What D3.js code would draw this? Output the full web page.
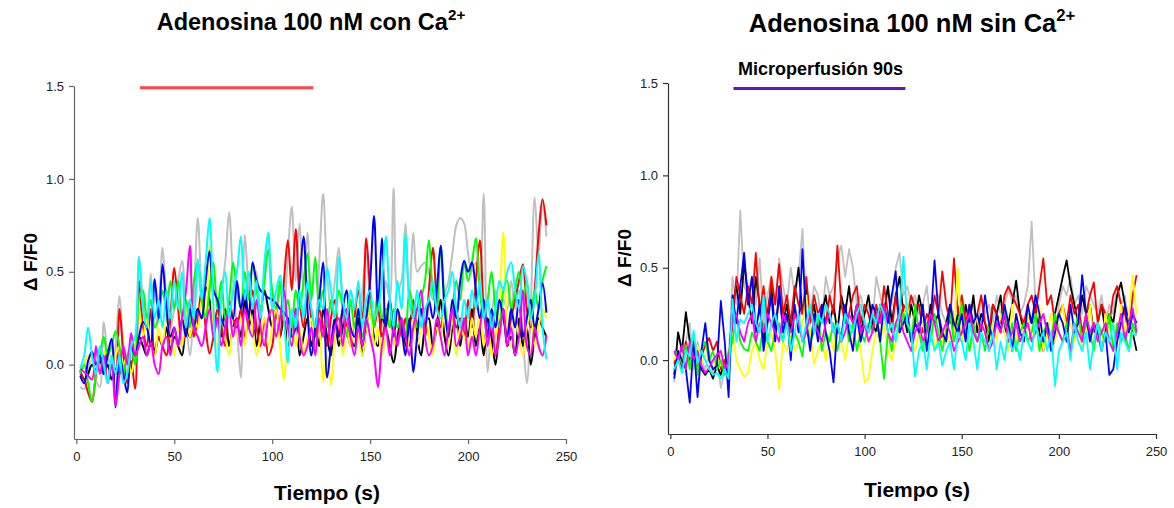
<!DOCTYPE html>
<html><head><meta charset="utf-8">
<script src="https://cdn.jsdelivr.net/npm/d3@7"></script>
<style>
html,body{margin:0;padding:0;background:#fff;}
svg{display:block;font-family:"Liberation Sans",Arial,sans-serif;}
</style></head>
<body>
<svg id="chart" width="1174" height="508"></svg>
<script>
// sampling grid (seconds)
const time = d3.range(2, 242, 2);
const xTicks = [0, 50, 100, 150, 200, 250];
const yTicks = [0, 0.5, 1.0, 1.5];
const seriesNames = ["gris","negro","rojo","amarillo","verde","azul","magenta","cian"];
const seriesColors = ["#c0c0c0","#000000","#ff0000","#ffff00","#00ff00","#0000ff","#ff00ff","#00ffff"];
const stimulus = [32.5, 121];

// ---- Panel izquierdo: con Ca2+ ----
const grisL = [-.12,-.13,-.05,.05,-.08,-.12,.23,.05,-.02,.10, .37,.10,-.05,.12,.02,.58,.35,.25,.49,.20, .30,.63,.35,.20,.30,.45,.56,.25,.05,.35, .79,.40,.25,.45,.30,.20,.40,.55,.82,.45, .20,-.07,.70,.40,.25,.50,.30,.45,.71,.35, .25,.40,.30,.60,.85,.45,.76,.40,.71,.30, .20,.55,.92,.50,.30,.45,.63,.35,.25,.40, .30,.25,.40,.60,.35,.25,.40,.20,.45,.35, .95,.40,.45,.76,.35,.71,.50,.53,.55,.50, .35,.40,.30,.38,.45,.60,.75,.79,.76,.60, .50,.55,.45,.92,-.04,.25,.40,.30,.35,.30, .45,.30,.40,.15,-.10,.30,.90,.60,.88,.69];
const negroL = [-.03,-.08,-.05,.00,-.03,.02,-.05,.00,-.08,-.02, -.05,.02,.05,-.02,.10,.15,.10,.05,.12,.08, .15,.10,.20,.08,.15,.10,.05,.20,.15,.25, .30,.25,.42,.35,.20,.25,.15,.30,.10,.20, .25,.15,.35,.20,.30,.10,.25,.40,.30,.20, .30,.15,.25,.10,.20,.30,.05,.15,.25,.10, .20,.10,.30,.15,.05,.25,.10,.20,.30,.15, .10,.25,.05,.20,.30,.15,.10,.25,.20,.10, .01,.15,.25,.10,.20,.30,.15,.05,.20,.25, .10,.20,.35,.15,.05,.20,.30,.10,.25,.15, .30,.10,.20,.05,.25,.15,.00,.20,.30,.10, .15,.05,.25,.10,.20,.00,.15,.25,.20,.15];
const rojoL = [-.05,-.08,-.15,-.20,-.05,.05,-.02,.08,.00,-.05, .30,.05,-.10,.02,-.13,.45,.20,.10,.30,.05, .15,.10,.05,.25,.52,.30,.10,.20,.35,.15, .25,.40,.20,.06,.15,.30,.20,.10,.35,.25, .20,.30,.15,.25,.40,.20,.10,.25,.05,.10, .30,.15,.45,.67,.40,.73,.35,.20,.40,.25, .15,.30,.20,.10,.25,.35,.15,.30,.20,.10, .25,.40,.25,.68,.40,.20,.30,.15,.25,.35, .20,.30,.15,.25,.10,.35,.20,.30,.15,.40, .63,.35,.20,.30,.15,.30,.20,.25,.15,.35, .20,.45,.67,.30,.15,.25,.05,.20,.30,.15, .25,.35,.45,.54,.30,.20,.40,.70,.89,.75];
const amarilloL = [-.03,.00,.05,.02,.08,-.02,.05,.10,.00,.05, .10,.00,.05,-.05,.10,.30,.15,.25,.10,.05, .20,.10,.25,.15,.05,.20,.10,.30,.15,.25, .20,.35,.25,.65,.20,.10,.25,.15,.05,.20, .15,.25,.10,.30,.20,.05,.15,.25,.10,.20, .30,.10,-.08,.15,.25,.10,.20,.05,.15,.25, .10,.20,-.09,.05,-.11,.15,.25,.05,.20,.10, .25,.15,.05,.20,.30,.10,.20,.05,.15,.25, .10,.30,.20,.05,.15,.25,.10,.20,.30,.15, .05,.20,.15,.30,.10,.25,.05,.20,.15,.10, .25,.15,.30,.10,.20,.05,.15,.35,.71,.20, .10,.25,.15,.05,.20,.30,.10,.20,.30,.25];
const verdeL = [-.05,.00,-.10,-.20,-.05,.05,.15,.05,.10,.18, .10,-.05,.05,.10,.00,.35,.40,.25,.35,.20, .25,.40,.30,.45,.30,.45,.25,.35,.20,.45, .55,.35,.25,.40,.55,.30,.45,.25,.35,.55, .40,.30,.50,.35,.55,.40,.30,.45,.62,.40, .30,.45,.25,.35,.20,.40,.30,.45,.60,.35, .58,.30,.40,.20,.35,.25,.40,.30,.15,.35, .20,.30,.15,.25,.35,.20,.40,.25,.30,.20, .30,.20,.25,.15,.40,.30,.20,.35,.45,.67, .40,.30,.64,.35,.20,.30,.45,.35,.55,.45, .55,.68,.40,.25,.35,.50,.30,.20,.40,.45, .30,.40,.50,.35,.45,.25,.40,.30,.45,.53];
const azulL = [-.06,-.10,.02,.07,.00,.05,-.05,.05,.14,-.23, .05,-.05,-.15,.10,.05,.15,.23,.20,.10,.46, .25,.54,.30,.15,.20,.10,.25,.15,.30,.20, .30,.25,.45,.61,.40,.35,.25,.20,.30,.25, .45,.30,.40,.25,.55,.45,.40,.38,.36,.35, .33,.30,.28,.25,.15,.20,.45,.69,.30,.05, .20,.35,.55,-.07,.10,.25,.15,.30,.40,.20, .15,.30,.10,.25,.45,.80,.30,.68,.20,.35, .15,.30,.20,.05,.25,-.04,.15,.30,.20,.35, .25,.40,.64,.30,.15,.35,.25,.45,.56,.50, .55,.40,.25,.35,.15,.30,.20,.35,.25,.15, .30,.20,.35,.15,.25,.35,.20,.30,.44,.28];
const magentaL = [-.02,-.04,-.06,-.08,.10,-.05,.05,-.10,.00,-.22, -.05,.10,.00,.17,.05,.10,.15,.05,.12,.00, -.05,.10,.15,.05,.20,.10,.25,.40,.64,.20, .15,.10,.20,.30,.15,.25,.10,.20,.30,.15, .25,.10,.30,.20,.15,.35,.20,.10,.25,.30, .15,.25,.40,.20,.10,.30,.15,.05,.10,.20, .05,.25,.15,.30,.10,.20,.25,.10,.30,.15, .05,.20,.10,.25,.15,.05,-.12,.10,.20,.05, .20,.10,.25,.15,.05,.20,.30,.40,.15,.05, .10,.25,.15,.05,.20,.30,.10,.15,.25,.05, .15,.05,.20,.30,.10,.25,.05,.15,.30,.10, .20,.05,.15,.40,.10,.05,.20,.10,.05,.16];
const cianL = [-.02,.05,.20,.05,-.05,.10,.00,-.10,.05,-.05, .05,-.10,-.05,.10,.15,.58,.30,.20,.45,.25, .35,.20,.40,.25,.45,.30,.50,.20,.35,.25, .57,.35,.55,.79,.30,-.04,.35,.50,.25,.40, .50,.69,.35,.50,.30,.45,.25,.55,.71,.30, .40,.48,.25,.01,.30,.20,.40,.25,.45,.30, .20,.35,.30,.52,.40,.25,.58,.35,.25,.40, .30,.45,.20,.35,.40,.25,.30,.45,.69,.35, .20,.45,.30,.70,.35,.25,.40,.20,.30,.35, .45,.30,.25,.35,.40,.50,.30,.20,.35,.25, .40,.30,.45,.25,.35,.20,.30,.45,.40,.50, .55,.40,.30,.53,.45,.25,.35,.60,.20,.03];

// ---- Panel derecho: sin Ca2+ ----
const grisR = [-.12,.15,.05,.10,.20,-.05,.10,.00,-.05,.05, -.08,.00,-.15,-.05,.00,.45,.30,.81,.40,.35, .45,.30,.55,.20,.35,.45,.30,.55,.40,.30, .50,.35,.45,.71,.30,.25,.40,.35,.20,.45, .35,.40,.55,.62,.45,.60,.50,.30,.35,.25, .30,.20,.45,.35,.25,.40,.30,.50,.58,.35, .40,.30,.35,.25,.30,.40,.20,.30,.35,.25, .20,.30,.25,.15,.35,.20,.25,.30,.15,.35, .25,.30,.20,.35,.25,.30,.38,.32,.35,.25, .30,.40,.75,.30,.20,.25,.15,.05,.10,.30, .40,.35,.45,.30,.35,.25,.40,.35,.30,.25, .35,.20,.30,.25,.40,.30,.35,.20,.25,.18];
const negroR = [-.08,.15,.05,.26,.10,.00,.05,-.05,-.08,-.05, -.10,-.03,-.08,.00,-.05,.30,.40,.25,.53,.35, .20,.45,.30,.10,.25,.40,.15,.35,.20,.30, .15,.35,.50,.25,.40,.20,.30,.15,.25,.35, .20,.30,.15,.35,.25,.40,.20,.30,.15,.25, .35,.20,.15,.30,.25,.40,.20,.35,.45,.25, .15,.30,.20,.35,.25,.15,.30,.20,.25,.10, .20,.30,.15,.25,.10,.30,.20,.35,.15,.25, .20,.10,.30,.25,.35,.15,.20,.30,.43,.25, .15,.25,.20,.30,.15,.05,.20,.10,.25,.35, .45,.54,.40,.30,.20,.35,.25,.30,.15,.20, .30,.15,.25,.20,.35,.42,.30,.20,.15,.05];
const rojoR = [-.02,.05,-.05,.10,.00,.05,-.03,.02,.08,.12, .05,.10,-.05,.00,-.08,.20,.45,.35,.25,.40, .30,.58,.25,.40,.20,.45,.30,.52,.25,.35, .20,.40,.30,.25,.45,.20,.35,.25,.30,.20, .35,.25,.62,.30,.20,.25,.35,.40,.20,.30, .25,.15,.30,.20,.40,.25,.15,.35,.20,.30, .25,.35,.28,.30,.15,.25,.20,.35,.25,.48, .30,.20,.55,.25,.35,.20,.30,.15,.25,.35, .20,.15,.30,.25,.20,.35,.40,.35,.30,.25, .20,.30,.35,.25,.40,.55,.30,.35,.20,.25, .30,.20,.35,.25,.30,.15,.25,.35,.42,.20, .30,.25,.20,.35,.40,.30,.25,.15,.35,.46];
const amarilloR = [.00,.05,.02,-.03,.05,.00,.08,-.02,.03,.00, -.05,.02,-.03,.05,-.08,.15,.00,-.05,-.09,-.07, .05,.10,.00,-.05,.10,.15,.05,-.16,.10,.05, .15,.05,.10,.20,.35,.15,-.02,.05,.10,.00, .15,.05,.20,.10,.00,.15,.10,.25,.05,-.12, -.10,.05,.15,.10,.20,.05,.00,.10,.15,.25, .30,.10,.05,.15,.20,.10,.25,.05,.15,.10, .20,.05,.15,.50,.10,.20,.05,.15,.25,.10, .15,.05,.20,.10,.25,.15,.05,.30,.10,.20, .15,.25,.10,.20,.30,.05,.15,.25,.10,.20, .30,.15,.20,.10,.25,.05,.15,.30,.10,.20, .05,.25,.15,.20,.10,.30,.15,.25,.46,.25];
const verdeR = [.03,.05,-.02,.08,-.05,.13,-.08,.05,.10,.00, .05,-.05,.00,-.08,.05,.10,.25,.10,.06,.05, .15,.10,.05,.20,.10,.05,.15,.20,.10,.25, .05,.15,.10,.02,.20,.10,.15,.25,.05,.15, .10,.20,.05,.15,.25,.10,.20,.05,.15,.10, .20,.15,.25,.10,-.10,.15,.05,.20,.15,.25, .20,.10,.30,.15,.05,.20,.10,.25,.15,.05, .15,.25,.10,.20,.30,.15,.05,.20,.10,.15, .05,.20,.10,.25,.15,.30,.10,.20,.05,.15, .20,.10,.15,.25,.05,.15,.20,.10,.25,.15, .10,.20,.05,.15,.25,.10,.20,.15,.05,.20, .15,.10,.25,.05,.20,.10,.15,.05,.20,.14];
const azulR = [-.10,.05,.00,-.05,-.23,.10,-.20,.05,.20,.00, -.05,-.03,.32,.10,-.20,.35,.20,.40,.58,.30, .45,.15,.30,.05,.20,.35,.10,.40,.15,.25, .00,.30,.15,.60,.20,.05,.25,.10,.30,.15, .05,-.12,.20,.10,.30,.15,.05,.25,.10,.20, .15,.30,.25,.10,.30,.20,.35,.48,.15,.20, .25,.10,.20,.15,.30,.05,.20,.54,.25,.15, .10,.30,.20,.15,.25,.10,.30,.20,.25,.15, .35,.20,.10,.25,.15,.30,.20,.05,.25,.15, .10,.30,.20,.35,.25,.10,.20,.05,.15,.25, .20,.10,.30,.15,.20,.46,.25,.10,.20,.15, .05,.15,-.08,-.05,.10,.20,.30,.15,.25,.20];
const magentaR = [.05,.00,.08,-.05,.10,.00,.05,-.03,-.07,-.04, .00,.03,.05,-.05,.00,.20,.25,.15,.10,.20, .25,.10,.20,.15,.25,.20,.15,.10,.25,.20, .15,.25,.20,.10,.15,.25,.20,.15,.10,.20, .25,.15,.20,.10,.15,.25,.20,.30,.15,.20, .10,.15,.25,.20,.30,.15,.10,.20,.25,.15, .10,.05,.15,.20,.10,.15,.25,.20,.10,.15, .20,.15,.05,.10,.15,.20,.25,.15,.10,.20, .15,.05,.10,.20,.15,.25,.10,.15,.20,.10, .15,.20,.10,.15,.20,.25,.15,.10,.20,.15, .10,.15,.05,.20,.15,.10,.25,.15,.20,.10, .15,.20,.10,.05,.15,.25,.10,.20,.28,.15];
const cianR = [-.05,.00,-.07,.05,.02,.16,-.02,.05,.00,-.05, -.08,-.07,-.10,-.05,-.10,.33,.10,.22,.20,.25, .30,.20,.15,.35,.10,.20,.25,.15,.10,.20, .05,.15,.25,.10,.20,.30,.15,.25,.20,.30, .25,.15,.20,.10,.25,.20,.15,.25,.30,.20, .15,.25,.20,.30,.25,.15,.20,.10,.25,.56, .20,.15,-.09,.05,.10,-.05,.15,.05,.10,-.03, .05,.10,-.05,.15,.10,.00,.20,.10,-.05,.15, .10,.05,.15,-.05,.10,.00,.15,.05,.10,.00, .15,.10,.05,.20,.10,.15,.05,.15,-.14,.05, .10,.15,.00,.20,.10,.05,.15,-.05,.10,.20, .05,.15,.10,.20,-.05,.15,.10,.05,.15,.13];

const panels = [
  {title:"Adenosina 100 nM con Ca", series:[grisL,negroL,rojoL,amarilloL,verdeL,azulL,magentaL,cianL],
   x0:74, x1:566, yTop:86, yBot:439, titleX:311, titleY:30, titleSize:23.5, smooth:true, axisColor:"#666",
   barColor:"#ff4444", barY:1.49, barLabel:null, ylabX:37, ylabY:262, tiempoX:327, tiempoY:500},
  {title:"Adenosina 100 nM sin Ca", series:[grisR,negroR,rojoR,amarilloR,verdeR,azulR,magentaR,cianR],
   x0:668, x1:1156, yTop:83, yBot:434, titleX:912, titleY:32, titleSize:25.5, smooth:false, axisColor:"#333",
   barColor:"#6a10cc", barY:1.47, barLabel:"Microperfusión 90s", ylabX:631, ylabY:258, tiempoX:917, tiempoY:497}
];

const svg = d3.select("#chart");

panels.forEach(p => {
  const x = d3.scaleLinear().domain([-1.2, 250]).range([p.x0, p.x1]);
  const y = d3.scaleLinear().domain([-0.4, 1.5]).range([p.yBot, p.yTop]);
  const g = svg.append("g");

  // title with superscript
  const t = g.append("text").attr("x", p.titleX).attr("y", p.titleY)
    .attr("text-anchor","middle").attr("font-size", p.titleSize).attr("font-weight","bold").attr("fill","#000");
  t.append("tspan").text(p.title);
  t.append("tspan").attr("font-size", p.titleSize*0.65).attr("dy", -p.titleSize*0.42).text("2+");

  // lines
  const line = d3.line().x((d,i)=>x(time[i])).y(d=>y(d))
    .curve(p.smooth ? d3.curveCatmullRom.alpha(0.5) : d3.curveLinear);
  p.series.forEach((s, k) => {
    g.append("path").datum(s).attr("d", line).attr("fill","none")
      .attr("stroke", seriesColors[k]).attr("stroke-width", p.smooth ? 2 : 1.8)
      .attr("stroke-linejoin","round");
  });

  // stimulus bar
  g.append("line").attr("x1", x(stimulus[0])).attr("x2", x(stimulus[1]))
    .attr("y1", y(p.barY)).attr("y2", y(p.barY))
    .attr("stroke", p.barColor).attr("stroke-width", 3);
  if (p.barLabel) {
    g.append("text").attr("x", (x(stimulus[0])+x(stimulus[1]))/2 + 1).attr("y", y(p.barY)-14)
      .attr("text-anchor","middle").attr("font-size", 18).attr("font-weight","bold").text(p.barLabel);
  }

  // axes
  const xa = g.append("g").attr("transform", `translate(0,${p.yBot})`)
    .call(d3.axisBottom(x).tickValues(xTicks).tickSize(5).tickSizeOuter(0).tickPadding(8));
  const ya = g.append("g").attr("transform", `translate(${p.x0},0)`)
    .call(d3.axisLeft(y).tickValues(yTicks).tickFormat(d3.format(".1f")).tickSize(5).tickSizeOuter(0).tickPadding(5));
  [xa, ya].forEach(a => {
    a.selectAll("path,line").attr("stroke", p.axisColor).attr("stroke-width", 1.2);
    a.selectAll("text").attr("font-size", 13).attr("fill","#222")
      .attr("font-family",'"Liberation Sans",Arial,sans-serif');
  });

  // axis titles
  g.append("text").attr("transform", `translate(${p.ylabX},${p.ylabY}) rotate(-90)`)
    .attr("text-anchor","middle").attr("font-size", 19).attr("font-weight","bold").text("Δ F/F0");
  g.append("text").attr("x", p.tiempoX).attr("y", p.tiempoY)
    .attr("text-anchor","middle").attr("font-size", 21).attr("font-weight","bold").text("Tiempo (s)");
});
</script>
</body></html>
